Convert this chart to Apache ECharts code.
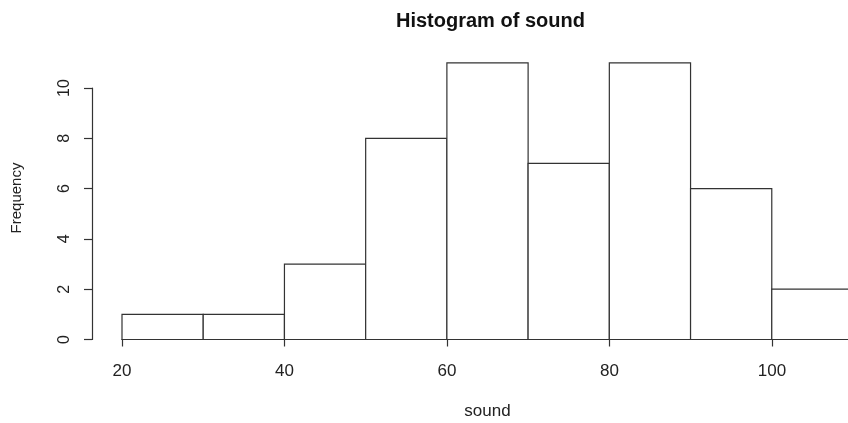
<!DOCTYPE html>
<html>
<head>
<meta charset="utf-8">
<title>Histogram of sound</title>
<script src="https://cdn.jsdelivr.net/npm/echarts@6/dist/echarts.min.js"></script>
<style>
  html, body { margin: 0; padding: 0; background: #fff; }
  #chart { width: 848px; height: 423px; }
</style>
</head>
<body>
<div id="chart"></div>
<script>
// histogram bins (left edges), width 10
const binStarts = [20, 30, 40, 50, 60, 70, 80, 90, 100];
const binWidth = 10;
const counts = [1, 1, 3, 8, 11, 7, 11, 6, 2];
const xTicks = [20, 40, 60, 80, 100];
const yTicks = [0, 2, 4, 6, 8, 10];

const ink = '#333';
const font = 'Liberation Sans, Arial, Helvetica, sans-serif';

const bins = binStarts.map((s, i) => [s, s + binWidth, counts[i]]);

const chart = echarts.init(document.getElementById('chart'));

const option = {
  backgroundColor: '#fff',
  animation: false,
  title: {
    text: 'Histogram of sound',
    left: 391,
    top: 6,
    textStyle: { fontFamily: font, fontSize: 20, fontWeight: 'bold', color: '#111' }
  },
  // ylab sits a bit above the middle of the axis, like R's plot region
  graphic: [
    {
      type: 'text',
      x: 17,
      y: 198,
      rotation: Math.PI / 2,
      style: {
        text: 'Frequency',
        align: 'center',
        verticalAlign: 'middle',
        fontFamily: font,
        fontSize: 15,
        fill: '#222'
      }
    }
  ],
  grid: [
    // plot region for the bars (x 20..110, the right bar runs off the page)
    { left: 122, width: 731, top: 88, height: 251.5, outerBoundsMode: 'none' },
    // same rows, x axis drawn only from 20 to 100
    { left: 122, width: 650, top: 88, height: 251.5, outerBoundsMode: 'none' }
  ],
  xAxis: [
    {
      gridIndex: 0,
      type: 'value',
      min: 20,
      max: 110,
      offset: 13,
      axisLine: { show: false },
      axisTick: { show: false },
      axisLabel: { show: false },
      splitLine: { show: false },
      name: 'sound',
      nameLocation: 'middle',
      nameGap: 50,
      nameTextStyle: { fontFamily: font, fontSize: 17, color: '#222' }
    },
    {
      gridIndex: 1,
      type: 'value',
      min: xTicks[0],
      max: xTicks[xTicks.length - 1],
      interval: 20,
      offset: 13,
      axisLine: { show: true, lineStyle: { color: ink, width: 1.2 } },
      axisTick: { show: true, length: 7, lineStyle: { color: ink, width: 1.2 } },
      axisLabel: { fontFamily: font, fontSize: 17, color: '#222', margin: 10 },
      splitLine: { show: false }
    }
  ],
  yAxis: [
    {
      gridIndex: 0,
      type: 'value',
      min: yTicks[0],
      max: yTicks[yTicks.length - 1],
      interval: 2,
      offset: 30,
      axisLine: { show: true, lineStyle: { color: ink, width: 1.2 } },
      axisTick: { show: true, length: 8, lineStyle: { color: ink, width: 1.2 } },
      axisLabel: { rotate: 90, fontFamily: font, fontSize: 16, color: '#222', margin: 19 },
      splitLine: { show: false }
    },
    {
      gridIndex: 1,
      type: 'value',
      min: 0,
      max: 10,
      show: false
    }
  ],
  series: [
    {
      type: 'custom',
      xAxisIndex: 0,
      yAxisIndex: 0,
      clip: false,
      data: bins,
      renderItem: function (params, api) {
        const p0 = api.coord([api.value(0), 0]);
        const p1 = api.coord([api.value(1), api.value(2)]);
        return {
          type: 'rect',
          shape: { x: p0[0], y: p1[1], width: p1[0] - p0[0], height: p0[1] - p1[1] },
          style: { fill: '#fff', stroke: ink, lineWidth: 1.2 }
        };
      }
    }
  ]
};

chart.setOption(option);
</script>
</body>
</html>
